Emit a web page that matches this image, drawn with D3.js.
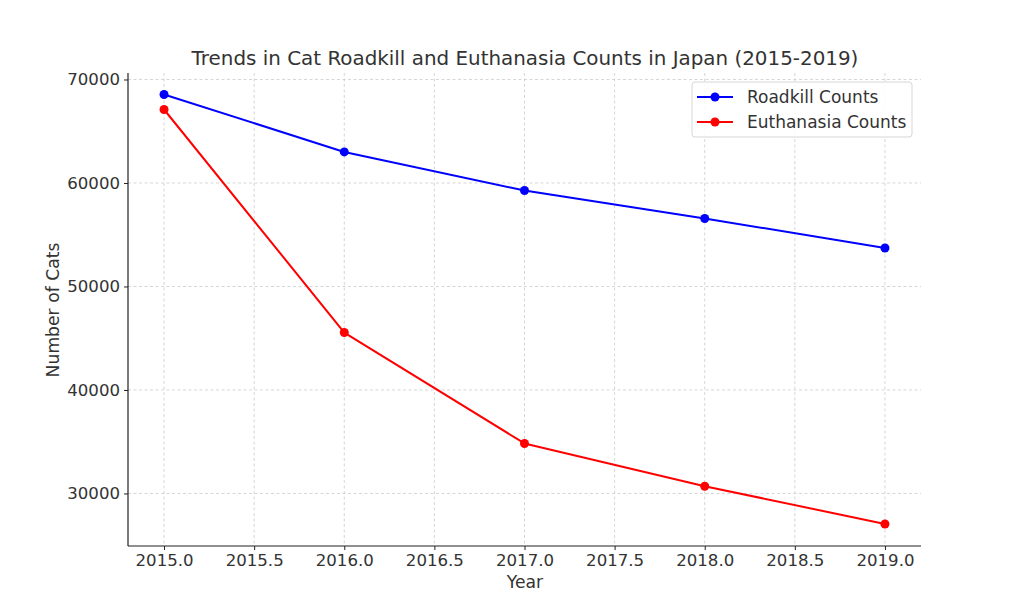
<!DOCTYPE html>
<html>
<head>
<meta charset="utf-8">
<script src="https://cdn.jsdelivr.net/npm/d3@7"></script>
<style>
  body { margin: 0; background: #fff; }
  svg { display: block; font-family: "DejaVu Sans", sans-serif; }
</style>
</head>
<body>
<svg id="chart" width="1024" height="614"></svg>
<script>
const years = [2015, 2016, 2017, 2018, 2019];
const roadkill = [68550, 63000, 59270, 56570, 53720];
const euthanasia = [67100, 45550, 34830, 30700, 27050];
const xTicks = [2015.0, 2015.5, 2016.0, 2016.5, 2017.0, 2017.5, 2018.0, 2018.5, 2019.0];
const yTicks = [30000, 40000, 50000, 60000, 70000];
const seriesNames = ["Roadkill Counts", "Euthanasia Counts"];
const seriesColors = ["#0000ff", "#ff0000"];

const svg = d3.select("#chart");
const m = { left: 128, right: 921, top: 73, bottom: 546 };
const textColor = "#333333";

const x = d3.scaleLinear().domain([2014.8, 2019.2]).range([m.left, m.right]);
const y = d3.scaleLinear().domain([24923, 70627]).range([m.bottom, m.top]);

// gridlines
const grid = svg.append("g");
grid.selectAll("line.vx").data(xTicks).join("line")
  .attr("x1", d => x(d)).attr("x2", d => x(d))
  .attr("y1", m.top).attr("y2", m.bottom)
  .attr("stroke", "#cccccc").attr("stroke-width", 0.8).attr("stroke-dasharray", "3,2.5");
grid.selectAll("line.hy").data(yTicks).join("line")
  .attr("x1", m.left).attr("x2", m.right)
  .attr("y1", d => y(d)).attr("y2", d => y(d))
  .attr("stroke", "#cccccc").attr("stroke-width", 0.8).attr("stroke-dasharray", "3,2.5");

// axes
const xAxis = svg.append("g").attr("transform", `translate(0,${m.bottom})`)
  .call(d3.axisBottom(x).tickValues(xTicks).tickFormat(d3.format(".1f")).tickSize(4).tickSizeOuter(0).tickPadding(4));
const yAxis = svg.append("g").attr("transform", `translate(${m.left},0)`)
  .call(d3.axisLeft(y).tickValues(yTicks).tickFormat(d => String(d)).tickSize(4).tickSizeOuter(0).tickPadding(4));
[xAxis, yAxis].forEach(a => {
  a.select(".domain").attr("stroke", "#222").attr("stroke-width", 1.2);
  a.selectAll(".tick line").attr("stroke", "#222");
  a.selectAll(".tick text").attr("fill", textColor).style("font-size", "16.6px").style("font-family", "DejaVu Sans");
});
xAxis.select(".domain").attr("d", `M${m.left},0H${m.right}`);
yAxis.select(".domain").attr("d", `M0,${m.bottom}V${m.top}`);

// lines
const allSeries = [roadkill, euthanasia];
const line = d3.line().x((d, i) => x(years[i])).y(d => y(d));
allSeries.forEach((s, k) => {
  svg.append("path").datum(s).attr("d", line)
    .attr("fill", "none").attr("stroke", seriesColors[k]).attr("stroke-width", 2)
    .attr("stroke-linejoin", "round");
  svg.append("g").selectAll("circle").data(s).join("circle")
    .attr("cx", (d, i) => x(years[i])).attr("cy", d => y(d)).attr("r", 4.5)
    .attr("fill", seriesColors[k]);
});

// title & labels
svg.append("text").attr("x", 525).attr("y", 65).attr("text-anchor", "middle")
  .attr("fill", textColor).style("font-size", "19.9px")
  .text("Trends in Cat Roadkill and Euthanasia Counts in Japan (2015-2019)");
svg.append("text").attr("x", 525).attr("y", 588).attr("text-anchor", "middle")
  .attr("fill", textColor).style("font-size", "17.2px").text("Year");
svg.append("text").attr("transform", "translate(59,310) rotate(-90)").attr("text-anchor", "middle")
  .attr("fill", textColor).style("font-size", "17.2px").text("Number of Cats");

// legend
const lg = svg.append("g");
lg.append("rect").attr("x", 692).attr("y", 82).attr("width", 220).attr("height", 55).attr("rx", 3)
  .attr("fill", "rgba(255,255,255,0.85)").attr("stroke", "#d6d6d6");
seriesNames.forEach((n, k) => {
  const yy = 97 + k * 25;
  lg.append("line").attr("x1", 697).attr("x2", 733).attr("y1", yy).attr("y2", yy)
    .attr("stroke", seriesColors[k]).attr("stroke-width", 2);
  lg.append("circle").attr("cx", 715).attr("cy", yy).attr("r", 4.5).attr("fill", seriesColors[k]);
  lg.append("text").attr("x", 747).attr("y", yy + 6).attr("fill", textColor)
    .style("font-size", "17px").text(n);
});
</script>
</body>
</html>
